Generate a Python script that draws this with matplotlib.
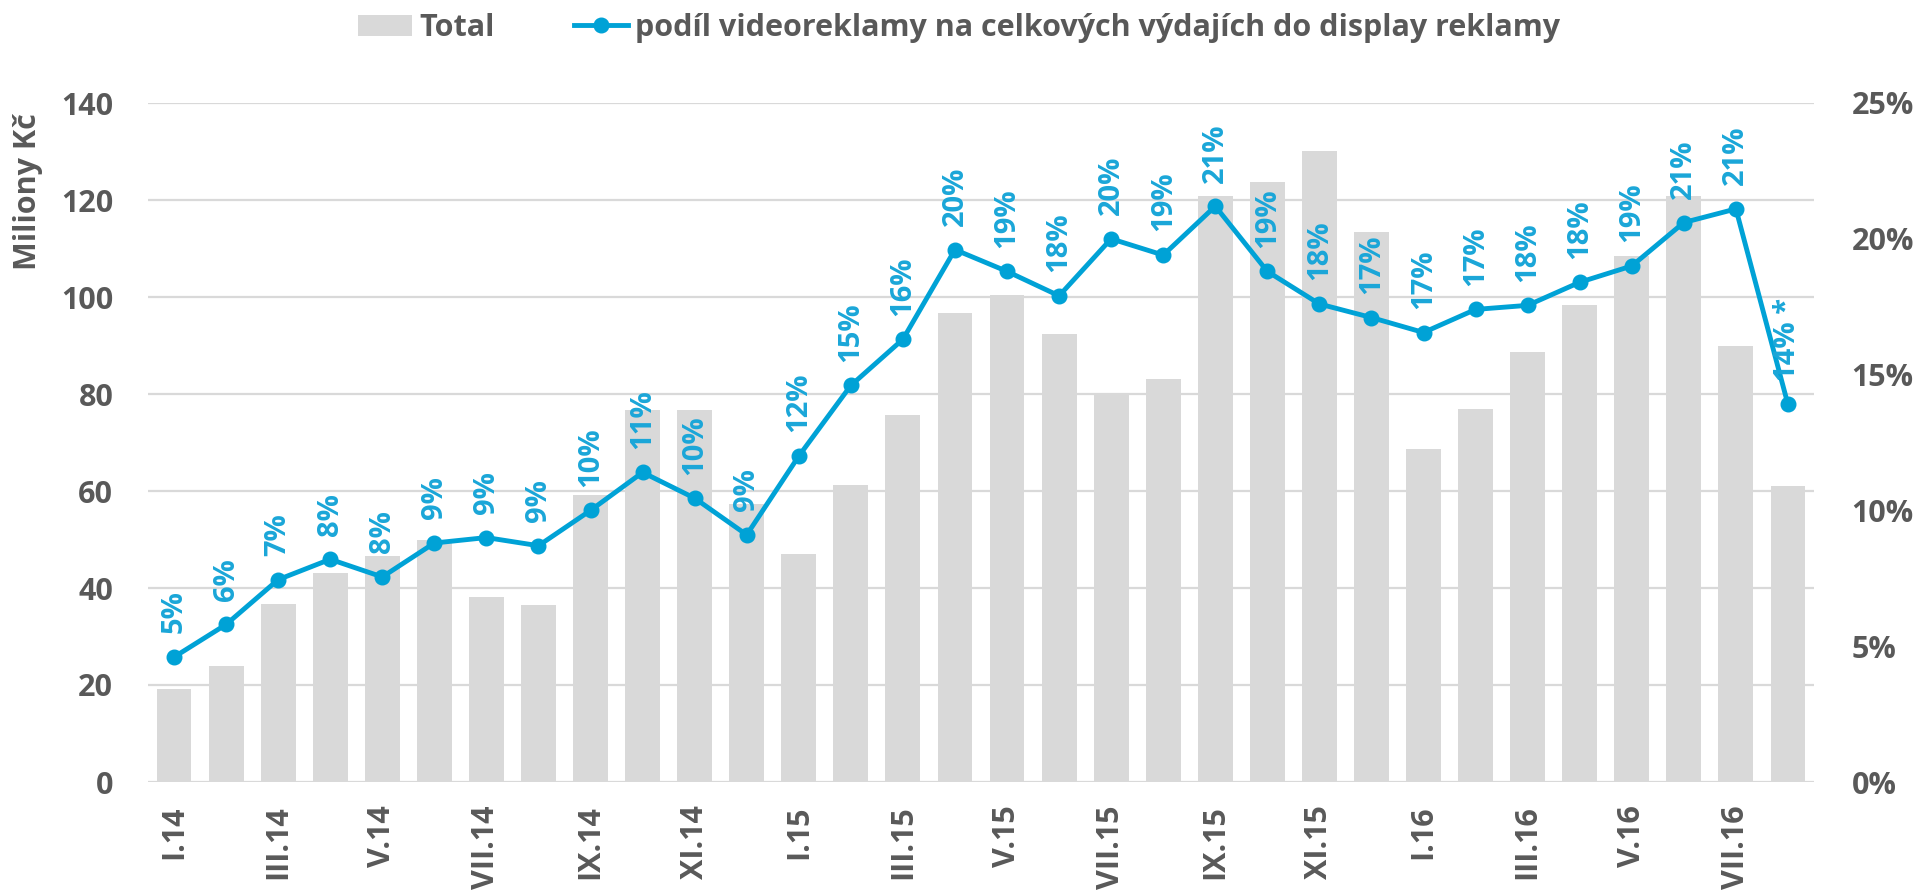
import matplotlib
matplotlib.use("Agg")
import matplotlib.pyplot as plt
from matplotlib.ticker import FuncFormatter, MultipleLocator

# Monthly data, I.14 .. VIII.16
months = ["I.14", "II.14", "III.14", "IV.14", "V.14", "VI.14", "VII.14", "VIII.14",
          "IX.14", "X.14", "XI.14", "XII.14",
          "I.15", "II.15", "III.15", "IV.15", "V.15", "VI.15", "VII.15", "VIII.15",
          "IX.15", "X.15", "XI.15", "XII.15",
          "I.16", "II.16", "III.16", "IV.16", "V.16", "VI.16", "VII.16", "VIII.16"]

# Total display advertising spend (millions CZK)
total = [19.2, 23.9, 36.7, 43.1, 46.7, 49.9, 38.2, 36.4,
         59.2, 76.6, 76.6, 57.3,
         47.0, 61.2, 75.7, 96.6, 100.5, 92.4, 79.7, 83.1,
         120.9, 123.7, 130.2, 113.3,
         68.7, 76.9, 88.7, 98.4, 108.5, 120.8, 89.9, 61.1]

# Video advertising share of total display spend (%)
share = [4.6, 5.8, 7.45, 8.2, 7.55, 8.8, 9.0, 8.7,
         10.0, 11.4, 10.45, 9.1,
         12.0, 14.6, 16.3, 19.6, 18.8, 17.9, 20.0, 19.4,
         21.2, 18.8, 17.6, 17.1,
         16.55, 17.4, 17.55, 18.4, 19.0, 20.6, 21.1, 13.9]

# Footnote marker for the last (incomplete) month
label_suffix = {31: " *"}

BAR_COLOR = "#D9D9D9"
LINE_COLOR = "#00A2D6"
LABEL_COLOR = "#1AA6D8"
TEXT_COLOR = "#595959"
GRID_COLOR = "#D9D9D9"

plt.rcParams["font.family"] = ["Open Sans", "DejaVu Sans"]
plt.rcParams["font.weight"] = "bold"

fig = plt.figure(figsize=(19.19, 8.96), dpi=100)
ax = fig.add_axes([148 / 1919, 1 - 782 / 896, 1666 / 1919, 679 / 896])

x = list(range(len(months)))
bars = ax.bar(x, total, width=0.67, color=BAR_COLOR, zorder=2, label="Total")

ax.set_xlim(-0.5, len(months) - 0.5)
ax.set_ylim(0, 140)
ax.yaxis.set_major_locator(MultipleLocator(20))
ax.grid(axis="y", color=GRID_COLOR, linewidth=1.6, zorder=0)
ax.set_axisbelow(True)
for s in ax.spines.values():
    s.set_visible(False)

ax.set_xticks(x[::2])
ax.set_xticklabels(months[::2], rotation=90, ha="center", va="top",
                   fontsize=22, fontweight="bold", color=TEXT_COLOR)
ax.tick_params(axis="x", length=0, pad=17)
ax.tick_params(axis="y", length=0, pad=25, labelsize=22, labelcolor=TEXT_COLOR)
for t in ax.get_yticklabels():
    t.set_fontweight("bold")

# Secondary axis for the share line
ax2 = ax.twinx()
ax2.set_ylim(0, 0.25)
ax2.yaxis.set_major_locator(MultipleLocator(0.05))
ax2.yaxis.set_major_formatter(FuncFormatter(lambda v, p: f"{v * 100:.0f}%"))
ax2.tick_params(axis="y", length=0, pad=27, labelsize=22, labelcolor=TEXT_COLOR)
for t in ax2.get_yticklabels():
    t.set_fontweight("bold")
for s in ax2.spines.values():
    s.set_visible(False)

share_frac = [v / 100 for v in share]
line, = ax2.plot(x, share_frac, color=LINE_COLOR, linewidth=3.5, marker="o",
                 markersize=10.5, zorder=5,
                 label="podíl videoreklamy na celkových výdajích do display reklamy")

for i, v in enumerate(share):
    txt = f"{int(v + 0.5)}%" + label_suffix.get(i, "")
    ax2.annotate(txt, (i, v / 100), xytext=(0, 17), textcoords="offset points",
                 rotation=90, ha="center", va="bottom", fontsize=21,
                 fontweight="bold", color=LABEL_COLOR, zorder=6)

fig.text(28 / 1919, 1 - 192 / 896, "Miliony Kč", rotation=90, ha="center",
         va="center", fontsize=22, fontweight="bold", color=TEXT_COLOR)

fig.legend([bars, line], ["Total", line.get_label()], loc="center",
           bbox_to_anchor=(0.5, 1 - 28 / 896), ncol=2, frameon=False,
           labelcolor=TEXT_COLOR, handlelength=1.75,
           handleheight=0.7, handletextpad=0.25, columnspacing=2.6,
           prop={"weight": "bold", "size": 22})

fig.savefig("out.png", dpi=100)
